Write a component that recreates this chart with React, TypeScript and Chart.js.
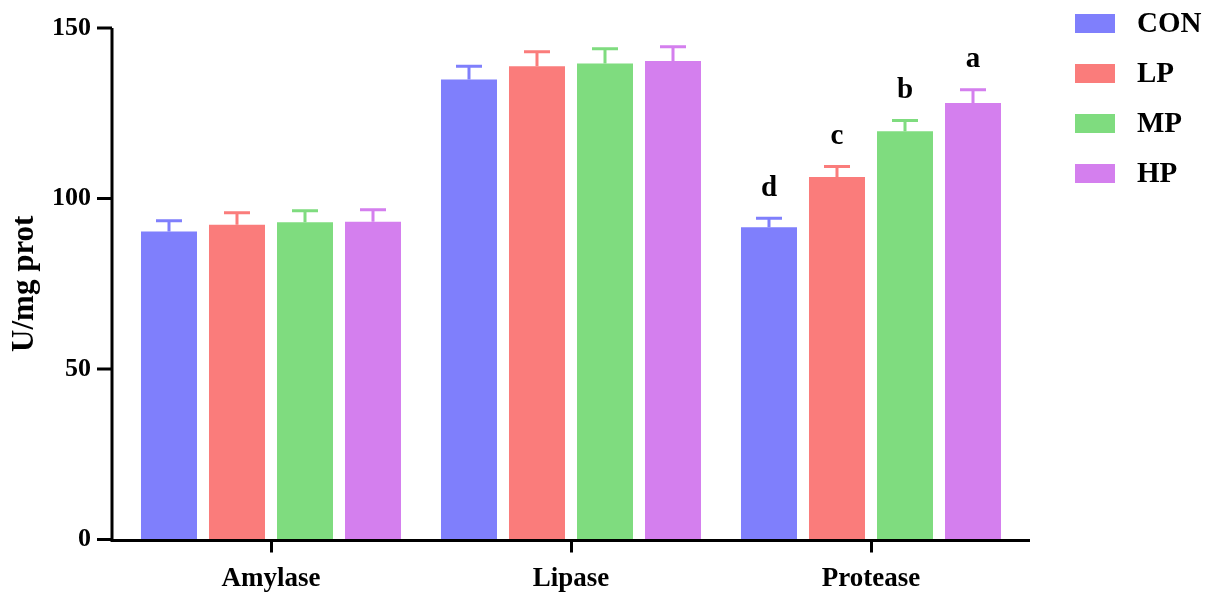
import React, { useEffect, useRef } from "react";
import { Chart, registerables } from "chart.js";

Chart.register(...registerables);

const categories = ["Amylase", "Lipase", "Protease"];
const groupLabels = ["CON", "LP", "MP", "HP"];
const conValues = [90.3, 134.9, 91.6];
const conErrors = [3.2, 3.9, 2.6];
const lpValues = [92.3, 138.8, 106.3];
const lpErrors = [3.5, 4.2, 3.1];
const mpValues = [93.0, 139.6, 119.7];
const mpErrors = [3.4, 4.3, 3.2];
const hpValues = [93.2, 140.3, 128.0];
const hpErrors = [3.5, 4.2, 3.9];
const proteaseLetters = ["d", "c", "b", "a"];
const yTicks = [0, 50, 100, 150];

const colors = ["#7f7ffc", "#fa7c7b", "#7fdc7f", "#d47fee"];
const FONT = "'Liberation Serif', 'Times New Roman', serif";

const seriesValues = [conValues, lpValues, mpValues, hpValues];
const seriesErrors = [conErrors, lpErrors, mpErrors, hpErrors];

const customPlugin = {
  id: "customDraw",
  afterDatasetsDraw(chart: any) {
    const { ctx, scales } = chart;
    const y = scales.y;
    ctx.save();
    chart.data.datasets.forEach((ds: any, di: number) => {
      const meta = chart.getDatasetMeta(di);
      meta.data.forEach((bar: any, i: number) => {
        const v = ds.data[i];
        const e = seriesErrors[di][i];
        const top = y.getPixelForValue(v + e);
        ctx.strokeStyle = colors[di];
        ctx.lineWidth = 3;
        ctx.beginPath();
        ctx.moveTo(bar.x, bar.y);
        ctx.lineTo(bar.x, top);
        ctx.moveTo(bar.x - 13, top);
        ctx.lineTo(bar.x + 13, top);
        ctx.stroke();
        if (i === 2) {
          ctx.fillStyle = "#000";
          ctx.font = `bold 29px ${FONT}`;
          ctx.textAlign = "center";
          ctx.textBaseline = "middle";
          ctx.fillText(proteaseLetters[di], bar.x, top - 30);
        }
      });
    });
    ctx.restore();
  },
  afterDraw(chart: any) {
    const { ctx, chartArea, scales } = chart;
    const y = scales.y;
    const axisX = chartArea.left - 9;
    const axisY = chartArea.bottom + 1;
    ctx.save();
    ctx.strokeStyle = "#000";
    ctx.lineWidth = 3;
    ctx.beginPath();
    ctx.moveTo(axisX, chartArea.top);
    ctx.lineTo(axisX, axisY + 1.5);
    ctx.moveTo(axisX - 1.5, axisY);
    ctx.lineTo(chartArea.right + 9, axisY);
    yTicks.forEach((t) => {
      const py = y.getPixelForValue(t);
      ctx.moveTo(axisX - 15, py);
      ctx.lineTo(axisX, py);
    });
    ctx.stroke();

    // legend
    ctx.font = `bold 29px ${FONT}`;
    ctx.textAlign = "left";
    ctx.textBaseline = "middle";
    chart.data.datasets.forEach((ds: any, di: number) => {
      const by = 14 + di * 50;
      ctx.fillStyle = colors[di];
      ctx.fillRect(1075, by, 40, 19);
      ctx.fillStyle = "#000";
      ctx.fillText(ds.label, 1137, by + 11);
    });
    ctx.restore();
  },
};

export default function App() {
  const canvasRef = useRef<HTMLCanvasElement | null>(null);

  useEffect(() => {
    document.body.style.margin = "0";
    const canvas = canvasRef.current;
    if (!canvas) return;
    const chart = new Chart(canvas, {
      type: "bar",
      data: {
        labels: categories,
        datasets: groupLabels.map((label, i) => ({
          label,
          data: seriesValues[i],
          backgroundColor: colors[i],
          borderWidth: 0,
          categoryPercentage: 0.9067,
          barPercentage: 0.8235,
        })),
      },
      options: {
        animation: false,
        responsive: true,
        maintainAspectRatio: false,
        layout: { padding: { top: 28, right: 191, left: 0, bottom: 0 } },
        plugins: {
          legend: { display: false },
          tooltip: { enabled: false },
        },
        scales: {
          x: {
            offset: true,
            grid: {
              display: true,
              drawOnChartArea: false,
              offset: false,
              tickLength: 13,
              lineWidth: 3,
              color: "#000",
            },
            border: { display: false },
            ticks: {
              color: "#000",
              padding: 10,
              font: { family: FONT, size: 27, weight: "bold" },
            },
            afterFit: (scale: any) => {
              scale.height = 52.5;
            },
          },
          y: {
            min: 0,
            max: 150,
            grid: {
              display: true,
              drawOnChartArea: false,
              drawTicks: true,
              tickLength: 30,
              color: "rgba(0,0,0,0)",
            },
            border: { display: false },
            ticks: {
              stepSize: 50,
              color: "#000",
              padding: 0,
              font: { family: FONT, size: 26, weight: "bold" },
            },
            title: {
              display: true,
              text: "U/mg prot",
              color: "#000",
              padding: { top: 6, bottom: 0 },
              font: { family: FONT, size: 31, weight: "bold" },
            },
            afterFit: (scale: any) => {
              scale.width = 121;
            },
          },
        },
      },
      plugins: [customPlugin],
    });
    return () => chart.destroy();
  }, []);

  return (
    <div style={{ position: "relative", width: "1212px", height: "592px" }}>
      <canvas ref={canvasRef} />
    </div>
  );
}
